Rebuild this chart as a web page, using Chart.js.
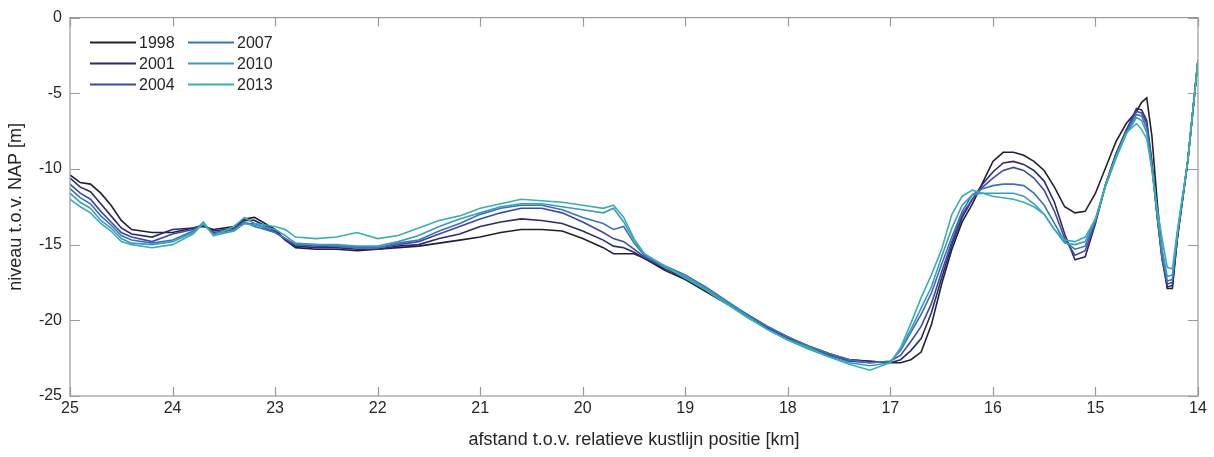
<!DOCTYPE html>
<html>
<head>
<meta charset="utf-8">
<script src="https://cdn.jsdelivr.net/npm/chart.js@4.4.1/dist/chart.umd.min.js"></script>
<style>
html, body { margin: 0; padding: 0; background: #fff; }
</style>
</head>
<body>
<canvas id="profielChart" width="1214" height="457"></canvas>
<script>
// afstand t.o.v. kustlijn [km]
const afstand = [
    25, 24.9, 24.8, 24.7, 24.6, 24.5, 24.4,
    24.2, 24.0, 23.8, 23.7, 23.6,
    23.4, 23.3, 23.2, 23.0, 22.9, 22.8,
    22.6, 22.4, 22.2, 22.0, 21.8, 21.6, 21.4, 21.2, 21.0,
    20.8, 20.6, 20.4, 20.2, 20.0, 19.8, 19.7, 19.6, 19.5, 19.4,
    19.2, 19.0, 18.8, 18.6, 18.4, 18.2, 18.0, 17.8, 17.6, 17.4, 17.2,
    17.0, 16.9, 16.8, 16.7, 16.6, 16.5, 16.4, 16.3, 16.2, 16.1,
    16.0, 15.9, 15.8, 15.7, 15.6, 15.5, 15.4, 15.3, 15.2, 15.1,
    15.0, 14.9, 14.8, 14.7, 14.6,
    14.55, 14.5, 14.45, 14.4, 14.35, 14.3, 14.25, 14.2, 14.1, 14.0
];

const jaren = ['1998', '2001', '2004', '2007', '2010', '2013'];
const kleuren = ['#231f35', '#2e2b6b', '#3d4aa6', '#3a74b8', '#3e98c0', '#38b0ad'];

// niveau t.o.v. NAP [m] per jaar
const niveau1998 = [
    -10.4, -10.9, -11.0, -11.6, -12.4, -13.4, -14.0,
    -14.2, -14.2, -13.9, -13.8, -14.0,
    -13.8, -13.3, -13.2, -14.0, -14.7, -15.2,
    -15.3, -15.3, -15.4, -15.3, -15.2, -15.1, -14.9, -14.7, -14.5,
    -14.2, -14.0, -14.0, -14.1, -14.6, -15.2, -15.6, -15.6, -15.6, -15.9,
    -16.7, -17.3, -18.1, -18.9, -19.7, -20.5, -21.1, -21.7, -22.2, -22.6, -22.7,
    -22.8, -22.8, -22.6, -22.1, -20.3, -17.6, -15.3, -13.5, -12.3, -10.9,
    -9.5, -8.9, -8.9, -9.1, -9.5, -10.1, -11.2, -12.5, -12.9, -12.8,
    -11.6, -9.9, -8.2, -7.0, -6.2,
    -5.6, -5.3, -7.8, -12.0, -15.5, -17.9, -17.9, -14.5, -9.5, -2.8
];
const niveau2001 = [
    -10.6, -11.2, -11.5, -12.3, -13.1, -13.9, -14.3,
    -14.5, -14.0, -13.9, -13.7, -14.1,
    -13.9, -13.4, -13.4, -14.1, -14.7, -15.1,
    -15.2, -15.2, -15.3, -15.3, -15.1, -15.0, -14.6, -14.3, -13.8,
    -13.5, -13.3, -13.4, -13.6, -14.1, -14.7, -15.1, -15.2, -15.5, -15.9,
    -16.6, -17.2, -18.0, -18.8, -19.6, -20.4, -21.1, -21.8, -22.3, -22.6, -22.7,
    -22.8, -22.6, -22.0, -21.2, -19.5, -17.2, -15.0, -13.2, -12.0, -11.0,
    -10.2, -9.6, -9.5, -9.7, -10.1, -10.8, -12.2, -14.3, -16.0, -15.8,
    -13.6, -11.0, -9.0, -7.5, -6.0,
    -6.1, -6.8, -9.5, -13.0, -16.0, -17.8, -17.7, -14.5, -9.5, -2.8
];
const niveau2004 = [
    -11.0, -11.6, -12.0, -12.8, -13.5, -14.2, -14.5,
    -14.8, -14.3, -14.0, -13.7, -14.2,
    -14.0, -13.6, -13.6, -14.2, -14.6, -15.0,
    -15.1, -15.1, -15.2, -15.2, -15.0, -14.8, -14.3, -13.8, -13.3,
    -12.9, -12.6, -12.6, -12.9, -13.5, -14.2, -14.6, -14.8, -15.3, -15.8,
    -16.5, -17.2, -17.9, -18.8, -19.7, -20.5, -21.2, -21.8, -22.3, -22.7, -22.8,
    -22.7, -22.3, -21.4, -20.4, -18.9, -16.8, -14.8, -13.0, -12.0, -11.2,
    -10.6, -10.1, -9.9, -10.1, -10.6, -11.4, -12.8, -14.6, -15.7, -15.4,
    -13.5, -11.0, -9.0, -7.4, -6.2,
    -6.3, -7.0, -9.6, -13.0, -15.9, -17.6, -17.5, -14.4, -9.5, -2.8
];
const niveau2007 = [
    -11.3, -11.9, -12.3, -13.1, -13.7, -14.4, -14.7,
    -14.9, -14.7, -14.1, -13.6, -14.3,
    -14.0, -13.5, -13.8, -14.2, -14.6, -15.0,
    -15.0, -15.1, -15.2, -15.2, -14.9, -14.7, -14.1, -13.6, -13.0,
    -12.6, -12.4, -12.4, -12.7, -13.2, -13.6, -14.0, -13.8, -14.9, -15.7,
    -16.4, -17.0, -17.8, -18.7, -19.6, -20.4, -21.1, -21.7, -22.2, -22.6, -22.8,
    -22.7, -22.0, -20.8, -19.6, -18.2, -16.3, -14.5, -12.8, -11.7, -11.3,
    -11.1, -11.0, -11.0, -11.1, -11.6, -12.4, -13.6, -14.8, -15.3, -15.1,
    -13.4, -11.1, -9.2, -7.6, -6.4,
    -6.5, -7.3, -9.8, -13.0, -15.8, -17.4, -17.3, -14.3, -9.5, -2.8
];
const niveau2010 = [
    -11.6, -12.2, -12.6, -13.4, -13.9, -14.6, -14.9,
    -15.0, -14.8, -14.2, -13.5, -14.4,
    -14.1, -13.6, -13.7, -14.0, -14.4, -14.9,
    -15.0, -15.0, -15.1, -15.1, -14.8, -14.4, -13.8, -13.3, -12.9,
    -12.5, -12.3, -12.3, -12.5, -12.7, -12.9, -12.6, -13.5, -14.7, -15.6,
    -16.5, -17.1, -17.9, -18.8, -19.7, -20.6, -21.3, -21.9, -22.4, -22.8, -23.0,
    -22.8, -21.9, -20.6, -19.2, -17.8, -15.8, -13.9, -12.4, -11.7, -11.6,
    -11.6, -11.6, -11.6, -11.8, -12.3, -13.0, -14.0, -14.9, -15.0, -14.8,
    -13.3, -11.1, -9.3, -7.7, -6.6,
    -6.8, -7.6, -10.0, -12.9, -15.3, -17.1, -17.0, -14.2, -9.5, -2.8
];
const niveau2013 = [
    -12.0, -12.5, -12.9, -13.6, -14.1, -14.8, -15.0,
    -15.2, -15.0, -14.3, -13.6, -14.4,
    -13.8, -13.2, -13.6, -13.8, -14.0, -14.5,
    -14.6, -14.5, -14.2, -14.6, -14.4, -13.9, -13.4, -13.1, -12.6,
    -12.3, -12.0, -12.1, -12.2, -12.4, -12.6, -12.4, -13.2, -14.6, -15.6,
    -16.4, -17.2, -18.0, -18.9, -19.8, -20.6, -21.3, -21.8, -22.4, -22.9, -23.3,
    -22.8, -21.8, -20.2, -18.5, -17.0, -15.3, -13.0, -11.8, -11.4, -11.6,
    -11.8, -11.9, -12.0, -12.2, -12.5, -13.0, -14.0, -14.7, -14.8, -14.5,
    -13.3, -11.0, -9.2, -7.6, -7.0,
    -7.4, -8.0, -10.0, -12.5, -14.6, -16.5, -16.6, -14.0, -9.5, -2.8
];

const xTicks = [25, 24, 23, 22, 21, 20, 19, 18, 17, 16, 15, 14];
const yTicks = [0, -5, -10, -15, -20, -25];

const reeksen = [niveau1998, niveau2001, niveau2004, niveau2007, niveau2010, niveau2013];

const tekstKleur = '#262626';
const asKleur = '#9a9a9a';
Chart.defaults.font.family = "'Liberation Sans', Arial, sans-serif";

// kader met naar binnen gerichte streepjes (MATLAB-stijl)
const kaderPlugin = {
    id: 'kader',
    afterDraw(chart) {
        const { ctx, chartArea: a, scales: { x, y } } = chart;
        ctx.save();
        ctx.strokeStyle = asKleur;
        ctx.lineWidth = 1.2;
        ctx.strokeRect(a.left, a.top, a.right - a.left, a.bottom - a.top);
        ctx.beginPath();
        x.ticks.forEach(t => {
            const px = Math.round(x.getPixelForValue(t.value)) + 0.5;
            ctx.moveTo(px, a.bottom); ctx.lineTo(px, a.bottom - 9);
            ctx.moveTo(px, a.top); ctx.lineTo(px, a.top + 9);
        });
        y.ticks.forEach(t => {
            const py = Math.round(y.getPixelForValue(t.value)) + 0.5;
            ctx.moveTo(a.left, py); ctx.lineTo(a.left + 10, py);
            ctx.moveTo(a.right, py); ctx.lineTo(a.right - 10, py);
        });
        ctx.stroke();
        ctx.restore();
    }
};

// legenda in twee kolommen linksboven
const legendaPlugin = {
    id: 'legenda',
    afterDraw(chart) {
        const { ctx, chartArea: a } = chart;
        ctx.save();
        ctx.font = "16px 'Liberation Sans', Arial, sans-serif";
        ctx.textBaseline = 'middle';
        ctx.fillStyle = tekstKleur;
        chart.data.datasets.forEach((ds, i) => {
            const kol = Math.floor(i / 3), rij = i % 3;
            const x = a.left + 20 + kol * 98;
            const y = a.top + 25 + rij * 21;
            ctx.strokeStyle = ds.borderColor;
            ctx.lineWidth = 2;
            ctx.beginPath();
            ctx.moveTo(x, y);
            ctx.lineTo(x + 46, y);
            ctx.stroke();
            ctx.fillText(ds.label, x + 49, y + 1);
        });
        ctx.restore();
    }
};

const datasets = reeksen.map((reeks, i) => ({
    label: jaren[i],
    data: afstand.map((km, j) => ({ x: km, y: reeks[j] })),
    borderColor: kleuren[i],
    backgroundColor: kleuren[i],
    borderWidth: 1.6,
    pointRadius: 0,
    tension: 0,
    fill: false,
    order: reeksen.length - i
}));

new Chart(document.getElementById('profielChart').getContext('2d'), {
    type: 'line',
    data: { datasets },
    options: {
        responsive: false,
        animation: false,
        layout: { padding: { top: 14, right: 16, bottom: 0, left: 0 } },
        plugins: {
            legend: { display: false },
            tooltip: { enabled: false }
        },
        scales: {
            x: {
                type: 'linear',
                reverse: true,
                min: 14,
                max: 25,
                afterBuildTicks: s => { s.ticks = xTicks.map(v => ({ value: v })); },
                afterFit: s => { s.height = 61; },
                ticks: { color: tekstKleur, font: { size: 16 }, padding: 3, maxRotation: 0, autoSkip: false },
                grid: { display: false, drawTicks: false },
                border: { display: false },
                title: {
                    display: true,
                    text: 'afstand t.o.v. relatieve kustlijn positie [km]',
                    color: tekstKleur,
                    font: { size: 18 },
                    padding: { top: 0, bottom: 6 }
                }
            },
            y: {
                min: -25,
                max: 0,
                afterBuildTicks: s => { s.ticks = yTicks.map(v => ({ value: v })); },
                afterFit: s => { s.width = 70; },
                ticks: { color: tekstKleur, font: { size: 16 }, padding: 8 },
                grid: { display: false, drawTicks: false },
                border: { display: false },
                title: {
                    display: true,
                    text: 'niveau t.o.v. NAP [m]',
                    color: tekstKleur,
                    font: { size: 18 },
                    padding: { top: 5, bottom: 0 }
                }
            }
        }
    },
    plugins: [kaderPlugin, legendaPlugin]
});
</script>
</body>
</html>
